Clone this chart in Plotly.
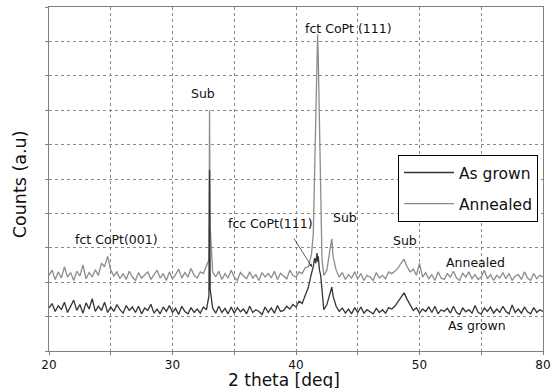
import plotly.graph_objects as go

# 2-theta sampling positions (deg), one row per degree
TWO_THETA = [
    20.0, 20.25, 20.5, 20.75,
    21.0, 21.25, 21.5, 21.75,
    22.0, 22.25, 22.5, 22.75,
    23.0, 23.25, 23.5, 23.75,
    24.0, 24.25, 24.5, 24.75,
    25.0, 25.25, 25.5, 25.75,
    26.0, 26.25, 26.5, 26.75,
    27.0, 27.25, 27.5, 27.75,
    28.0, 28.25, 28.5, 28.75,
    29.0, 29.25, 29.5, 29.75,
    30.0, 30.25, 30.5, 30.75,
    31.0, 31.25, 31.5, 31.75,
    32.0, 32.25, 32.5, 32.75, 32.95,
    33.0, 33.05, 33.25, 33.5, 33.75,
    34.0, 34.25, 34.5, 34.75,
    35.0, 35.25, 35.5, 35.75,
    36.0, 36.25, 36.5, 36.75,
    37.0, 37.25, 37.5, 37.75,
    38.0, 38.25, 38.5, 38.75,
    39.0, 39.25, 39.5, 39.75,
    40.0, 40.25, 40.5, 40.75,
    41.0, 41.25, 41.4, 41.5, 41.6, 41.7, 41.75, 41.8, 41.9,
    42.0, 42.1, 42.25, 42.5, 42.75, 42.9,
    43.0, 43.25, 43.5, 43.75,
    44.0, 44.25, 44.5, 44.75,
    45.0, 45.25, 45.5, 45.75,
    46.0, 46.25, 46.5, 46.75,
    47.0, 47.25, 47.5, 47.75,
    48.0, 48.25, 48.5, 48.75,
    49.0, 49.25, 49.5, 49.75,
    50.0, 50.25, 50.5, 50.75,
    51.0, 51.25, 51.5, 51.75,
    52.0, 52.25, 52.5, 52.75,
    53.0, 53.25, 53.5, 53.75,
    54.0, 54.25, 54.5, 54.75,
    55.0, 55.25, 55.5, 55.75,
    56.0, 56.25, 56.5, 56.75,
    57.0, 57.25, 57.5, 57.75,
    58.0, 58.25, 58.5, 58.75,
    59.0, 59.25, 59.5, 59.75,
    60.0,
]

AS_GROWN = [
    1.25, 1.38, 1.15, 1.32,
    1.20, 1.42, 1.12, 1.30,
    1.48, 1.18, 1.35, 1.10,
    1.40, 1.22, 1.52, 1.15,
    1.30, 1.18, 1.42, 1.12,
    1.28, 1.15, 1.35, 1.20,
    1.10, 1.32, 1.18, 1.28,
    1.12, 1.30, 1.08, 1.25,
    1.18, 1.36, 1.10, 1.22,
    1.08, 1.28, 1.15, 1.32,
    1.12, 1.24, 1.06, 1.30,
    1.15, 1.08, 1.26, 1.12,
    1.22, 1.10, 1.28, 1.20, 1.60,
    5.26, 1.80, 1.25, 1.10, 1.30,
    1.12, 1.24, 1.08, 1.28,
    1.10, 1.26, 1.14, 1.22,
    1.08, 1.30, 1.12, 1.20,
    1.15, 1.06, 1.28, 1.12,
    1.25, 1.10, 1.32, 1.15,
    1.18, 1.30, 1.22, 1.35,
    1.28, 1.45, 1.38, 1.62,
    1.85, 2.25, 2.45, 2.70, 2.55, 2.85, 2.60, 2.75, 2.35,
    2.20, 1.75, 1.20, 1.35, 1.70, 1.86,
    1.60, 1.30, 1.15, 1.25,
    1.10, 1.22, 1.08, 1.26,
    1.12, 1.28, 1.10, 1.20,
    1.14, 1.08, 1.24, 1.12,
    1.20, 1.10, 1.26, 1.22,
    1.30, 1.42, 1.55, 1.69,
    1.50, 1.32, 1.18, 1.26,
    1.10, 1.22, 1.15, 1.28,
    1.12, 1.30, 1.08, 1.20,
    1.15, 1.24, 1.10, 1.30,
    1.12, 1.06, 1.25, 1.14,
    1.20, 1.10, 1.32, 1.12,
    1.08, 1.25, 1.15, 1.28,
    1.10, 1.22, 1.12, 1.30,
    1.15, 1.08, 1.34, 1.12,
    1.22, 1.10, 1.28, 1.14,
    1.08, 1.26, 1.12, 1.20,
    1.15,
]

ANNEALED = [
    2.20, 2.35, 2.08, 2.30,
    2.12, 2.45, 2.15, 2.28,
    2.05, 2.32, 2.18, 2.50,
    2.10, 2.28, 2.15, 2.36,
    2.20, 2.55, 2.45, 2.75,
    2.35, 2.18, 2.30, 2.10,
    2.25, 2.08, 2.32, 2.15,
    2.05, 2.28, 2.12, 2.22,
    2.30, 2.08, 2.20, 2.35,
    2.12, 2.25, 2.05, 2.30,
    2.10, 2.22, 2.38, 2.12,
    2.28, 2.15, 2.40, 2.20,
    2.12, 2.30, 2.25, 2.50, 2.65,
    7.00, 3.60, 2.30, 2.15, 2.32,
    2.08, 2.25, 2.12, 2.35,
    2.15, 2.05, 2.28, 2.18,
    2.10, 2.30, 2.12, 2.22,
    2.05, 2.28, 2.15, 2.25,
    2.12, 2.32, 2.08, 2.26,
    2.18, 2.10, 2.35, 2.20,
    2.15, 2.30, 2.25, 2.42,
    2.45, 2.80, 3.40, 5.00, 7.20, 8.90, 9.20, 8.60, 6.20,
    3.80, 2.70, 2.20, 2.35, 2.95, 3.26,
    2.75, 2.35, 2.15, 2.28,
    2.08, 2.22, 2.12, 2.30,
    2.10, 2.25, 2.05, 2.20,
    2.15, 2.05, 2.28, 2.12,
    2.20, 2.10, 2.30, 2.25,
    2.32, 2.40, 2.55, 2.67,
    2.45, 2.30, 2.38, 2.20,
    2.55, 2.15, 2.28, 2.10,
    2.22, 2.05, 2.30, 2.12,
    2.08, 2.25, 2.15, 2.32,
    2.12, 2.05, 2.26, 2.15,
    2.30, 2.10, 2.22, 2.08,
    2.15, 2.35, 2.10, 2.22,
    2.05, 2.20, 2.12, 2.28,
    2.10, 2.25, 2.05, 2.18,
    2.22, 2.08, 2.30, 2.12,
    2.05, 2.25, 2.10, 2.20,
    2.15,
]

X_TICK_VALS = [20, 25, 30, 35, 40, 45, 50, 55, 60]
X_TICK_TEXT = ["20", "", "30", "", "40", "", "50", "", "80"]

# peak labels: (text, x, y)
PEAK_LABELS = [
    ("Sub", 32.47, 7.5),
    ("fct CoPt (111)", 44.29, 9.38),
    ("fct CoPt(001)", 25.47, 3.23),
    ("fcc CoPt(111)", 37.9, 3.72),
    ("Sub", 43.94, 3.87),
    ("Sub", 48.79, 3.2),
    ("Annealed", 54.55, 2.56),
    ("As grown", 54.62, 0.73),
]
ARROW_TAIL = (39.76, 3.31)
ARROW_HEAD = (41.3, 2.44)

assert len(TWO_THETA) == len(AS_GROWN) == len(ANNEALED)

FONT = "DejaVu Sans"
fig = go.Figure()
fig.add_trace(go.Scatter(x=TWO_THETA, y=ANNEALED, mode="lines", name="Annealed",
                         line=dict(color="#8c8c8c", width=1.3), legendgroup="b",
                         legendrank=2))
fig.add_trace(go.Scatter(x=TWO_THETA, y=AS_GROWN, mode="lines", name="As grown",
                         line=dict(color="#353535", width=1.3), legendgroup="a",
                         legendrank=1))

annotations = []
for txt, x, y in PEAK_LABELS:
    annotations.append(dict(text=txt, x=x, y=y, xref="x", yref="y", showarrow=False,
                            xanchor="center", yanchor="middle",
                            font=dict(family=FONT, size=12.5, color="#111111")))
annotations.append(dict(text="", x=ARROW_HEAD[0], y=ARROW_HEAD[1], xref="x", yref="y",
                        ax=ARROW_TAIL[0], ay=ARROW_TAIL[1], axref="x", ayref="y",
                        showarrow=True, arrowhead=2, arrowsize=0.8, arrowwidth=0.8,
                        arrowcolor="#333333"))
annotations.append(dict(text="Counts (a.u)", x=-0.0587, y=0.485, xref="paper", yref="paper",
                        textangle=-90, showarrow=False, xanchor="center", yanchor="middle",
                        font=dict(family=FONT, size=17.5, color="#111111")))
annotations.append(dict(text="2 theta [deg]", x=0.476, y=-0.0829, xref="paper", yref="paper",
                        showarrow=False, xanchor="center", yanchor="middle", height=17,
                        font=dict(family=FONT, size=17, color="#111111")))

axis_common = dict(showline=True, linecolor="#808080", linewidth=1, mirror=True,
                   showgrid=True, gridcolor="#8a8a8a", griddash="dot", gridwidth=1,
                   ticks="outside", ticklen=3, tickcolor="#808080", zeroline=False)

fig.update_layout(
    width=552, height=389,
    margin=dict(l=49, r=9, t=7, b=38, autoexpand=False),
    paper_bgcolor="white", plot_bgcolor="white",
    font=dict(family=FONT, color="#111111"),
    xaxis=dict(range=[20, 60], tickvals=X_TICK_VALS, ticktext=X_TICK_TEXT,
               tickfont=dict(size=12, family=FONT, color="#111111"), **axis_common),
    yaxis=dict(range=[0, 10], dtick=1, showticklabels=False, **axis_common),
    legend=dict(x=0.7065, y=0.57, xanchor="left", yanchor="top",
                bgcolor="white", bordercolor="#000000", borderwidth=1,
                font=dict(family=FONT, size=15.5, color="#111111"),
                traceorder="grouped", tracegroupgap=8, itemwidth=50),
    showlegend=True,
    annotations=annotations,
)

fig.write_html("out.html", config={"displayModeBar": False},
               post_script="document.body.style.margin='0';")
